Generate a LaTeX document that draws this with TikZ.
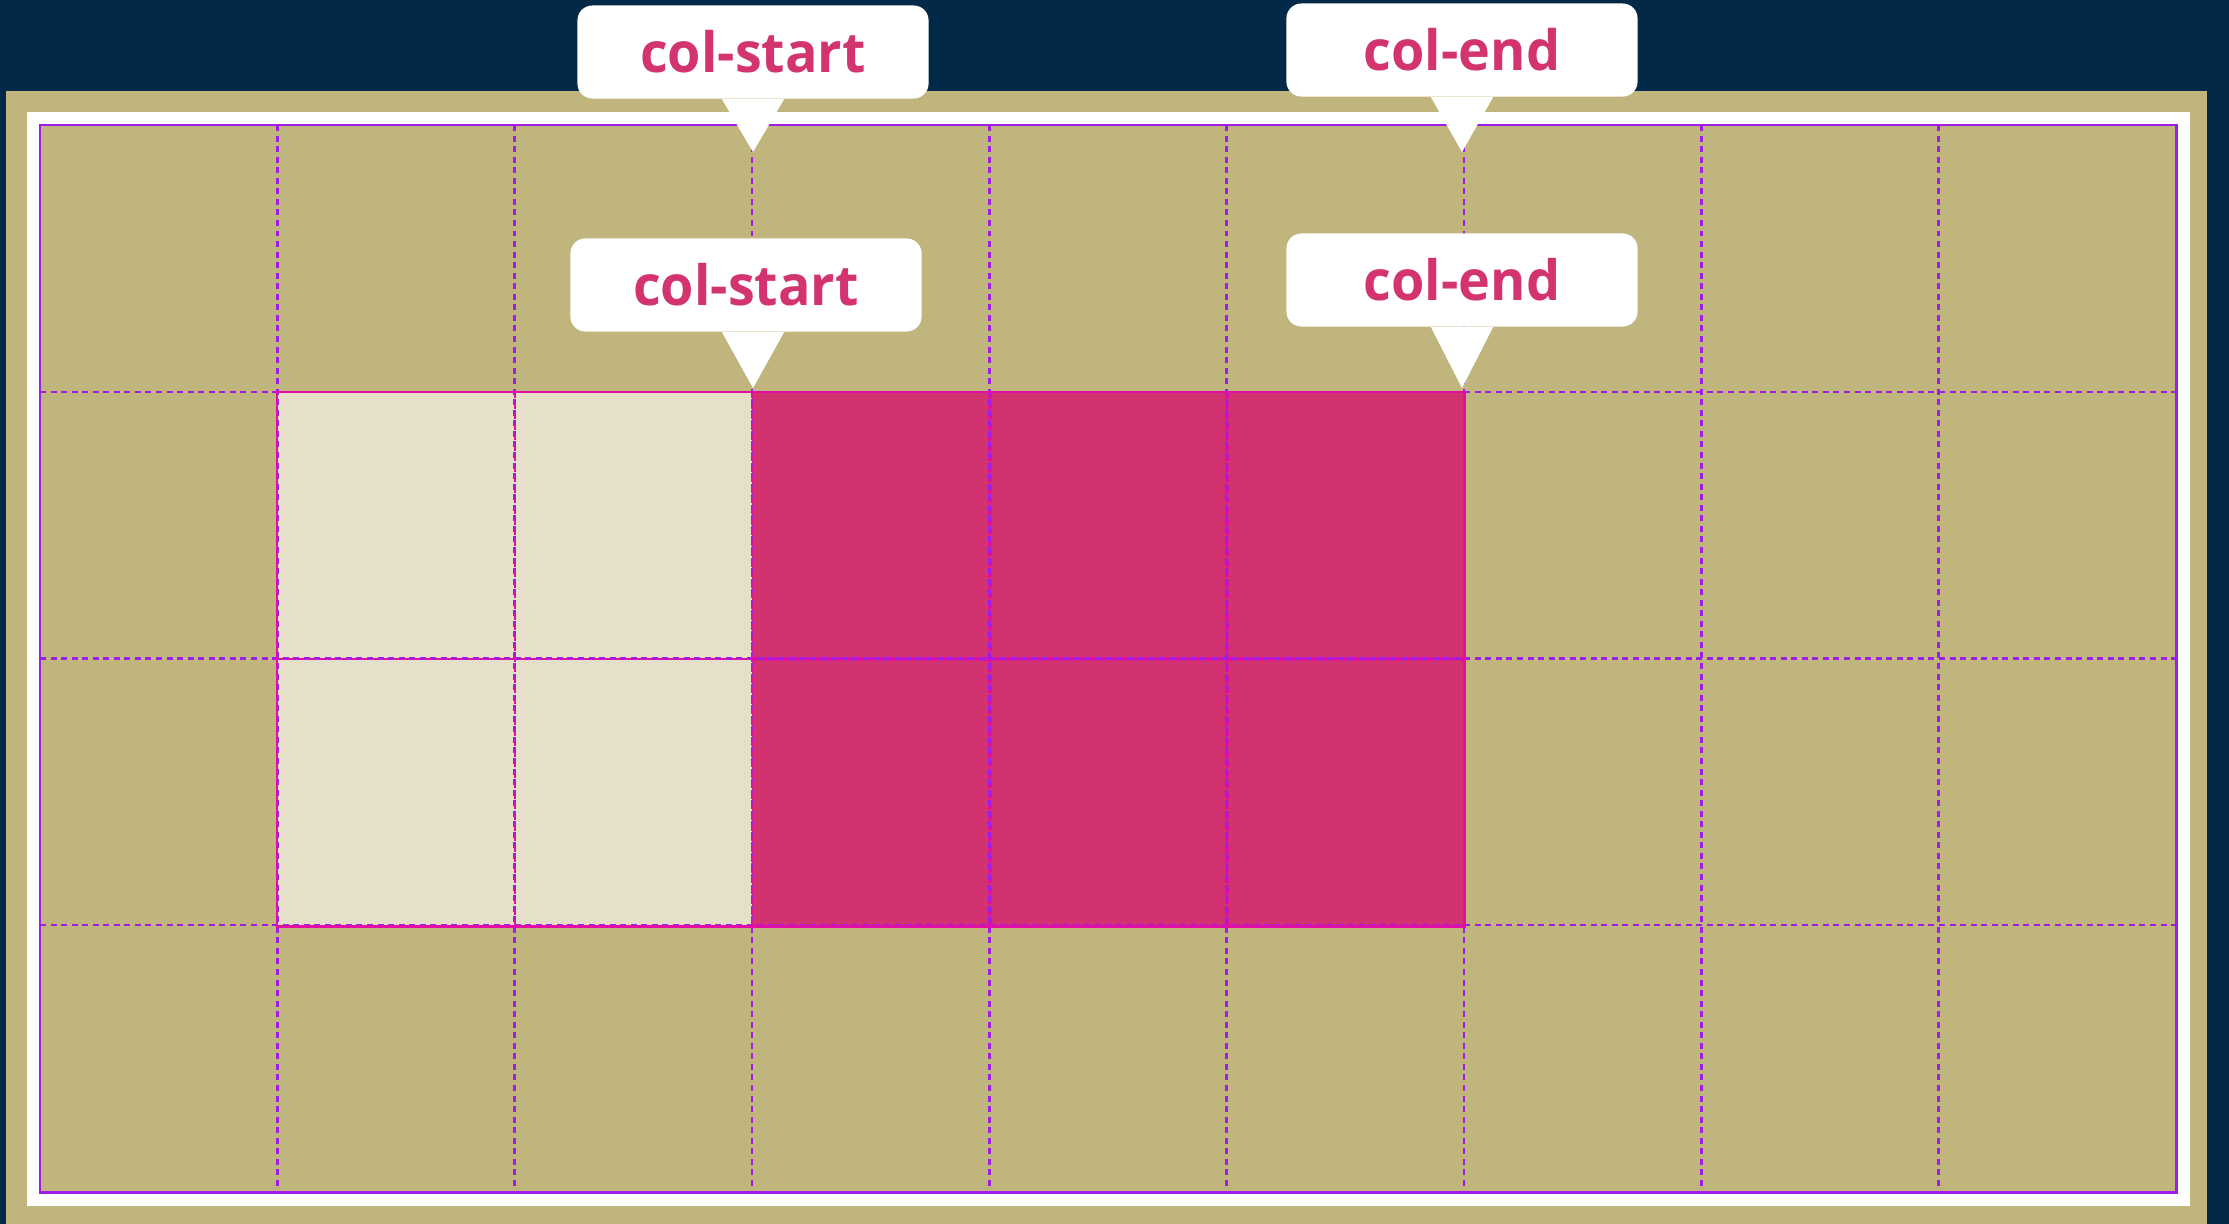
\documentclass[tikz,border=0pt]{standalone}
\usepackage{fontspec}
\setmainfont{Open Sans}
\newfontfamily\callfont[FakeStretch=0.97]{Open Sans}
\usetikzlibrary{positioning}
\definecolor{navy}{RGB}{2,41,71}
\definecolor{arena}{RGB}{193,181,126}
\definecolor{crema}{RGB}{230,224,202}
\definecolor{fucsia}{RGB}{210,50,112}
\definecolor{rosa}{RGB}{211,52,111}
\definecolor{lila}{RGB}{160,28,235}
\definecolor{borde}{RGB}{224,14,164}

\begin{document}
\begin{tikzpicture}[x=0.01cm,y=-0.01cm,
  gridline/.style={lila,line width=0.7pt,dash pattern=on 1.7pt off 1.3pt},
  itemline/.style={borde,line width=0.7pt,dash pattern=on 1.7pt off 1.3pt},
  callout/.style={fill=white,rounded corners=0.15cm,minimum width=3.51cm,minimum height=0.93cm,
    inner sep=0pt,text=rosa,font=\callfont\fontsize{15.8pt}{18pt}\selectfont\bfseries}]
  \useasboundingbox (0,0) rectangle (2229,1224);
  \fill[navy] (0,0) rectangle (2229,1224);
  \fill[arena] (6,91) rectangle (2207,1224);
  \fill[white] (27,112) rectangle (2190,1206);
  \fill[arena] (40,125) rectangle (2176,1192);
  % item areas
  \fill[crema] (277,392) rectangle (752,926);
  \fill[fucsia] (752,392) rectangle (1464,926);
  \draw[itemline,line width=1.2pt] (990,392) -- (990,926);
  \draw[itemline,line width=1.2pt] (1227,392) -- (1227,926);
  \draw[itemline,line width=1.2pt] (752,659) -- (1464,659);
  % grid lines
  \foreach \i in {1,...,8}
    \draw[gridline] ({40+237.33*\i},125) -- ++(0,1067);
  \foreach \j in {1,2,3}
    \draw[gridline] (40,{125+266.75*\j}) -- ++(2136,0);
  \draw[itemline] (515,392) -- (515,926);
  \draw[itemline] (752,392) -- (752,926);
  \draw[itemline] (277,659) -- (752,659);
  \draw[borde,line width=0.85pt] (277,392) rectangle (1464,926);
  \draw[lila,line width=0.85pt] (40,125) rectangle (2176,1192);
  % callouts
  \node[callout] (startTop) at (753,52) {col-start};
  \node[callout] (startLow) at (746,285) {col-start};
  \node[callout] (endTop) at (1462,50) {col-end};
  \node[callout] (endLow) at (1462,280) {col-end};
  \coordinate (startTopTip) at (753,152);
  \coordinate (startLowTip) at (753,388);
  \coordinate (endTopTip) at (1462,152);
  \coordinate (endLowTip) at (1462,388);
  \foreach \c in {startTop,startLow,endTop,endLow}
    \fill[white] ([xshift=-0.31cm]\c Tip |- \c.south) -- (\c Tip) -- ([xshift=0.31cm]\c Tip |- \c.south) -- cycle;
\end{tikzpicture}
\end{document}
